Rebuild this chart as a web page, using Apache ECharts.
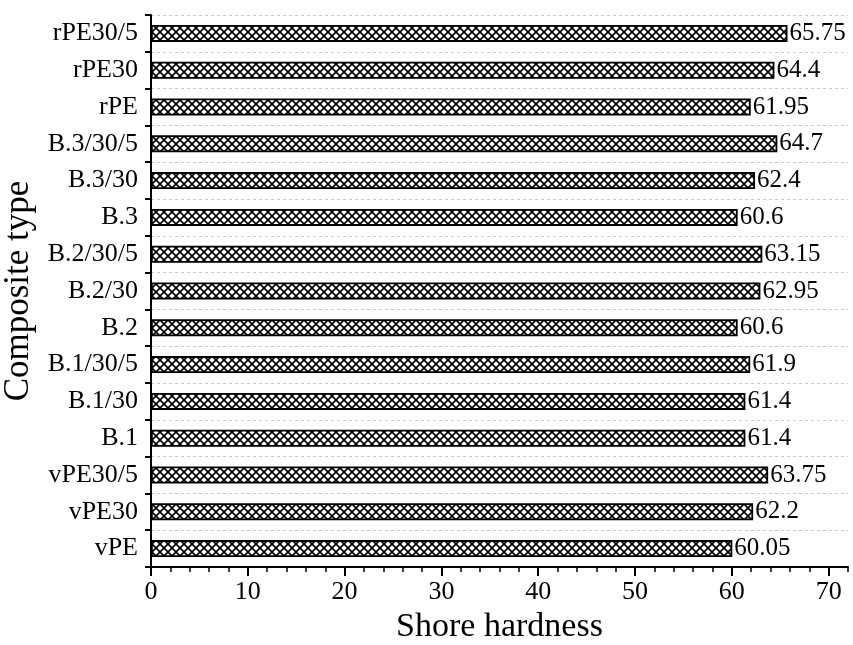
<!DOCTYPE html>
<html><head><meta charset="utf-8">
<script src="https://cdn.jsdelivr.net/npm/echarts@6/dist/echarts.min.js"></script>
<style>html,body{margin:0;padding:0;background:#fff}#c{width:853px;height:645px}</style>
</head><body><div id="c"></div>
<script>
const categories = ['vPE','vPE30','vPE30/5','B.1','B.1/30','B.1/30/5','B.2','B.2/30','B.2/30/5','B.3','B.3/30','B.3/30/5','rPE','rPE30','rPE30/5'];
const hardness = [60.05,62.2,63.75,61.4,61.4,61.9,60.6,62.95,63.15,60.6,62.4,64.7,61.95,64.4,65.75];
const majorTicks = [0,10,20,30,40,50,60,70];
const xTitle = 'Shore hardness';
const yTitle = 'Composite type';

const pc = document.createElement('canvas');
pc.width = 8; pc.height = 8;
const g = pc.getContext('2d');
g.fillStyle = '#fff'; g.fillRect(0,0,8,8);
g.strokeStyle = '#000'; g.lineWidth = 1.7;
g.beginPath(); g.moveTo(0,0); g.lineTo(8,8); g.moveTo(0,8); g.lineTo(8,0); g.stroke();

const FONT = 'Liberation Serif';
const chart = echarts.init(document.getElementById('c'));
chart.setOption({
  animation: false,
  backgroundColor: '#fff',
  grid: {left: 151, right: 5, top: 15, bottom: 78, containLabel: false, outerBoundsMode: 'none'},
  xAxis: [{
    type: 'value', min: 0, max: 72, interval: 2, position: 'bottom',
    name: xTitle, nameLocation: 'middle', nameGap: 43,
    nameTextStyle: {fontFamily: FONT, fontSize: 34, color: '#000'},
    axisLine: {show: true, lineStyle: {color: '#000', width: 2}},
    axisTick: {show: true, length: 5, lineStyle: {color: '#000', width: 1.5}},
    axisLabel: {show: false},
    splitLine: {show: false}
  },{
    type: 'value', min: 0, max: 72, interval: 10, position: 'bottom', gridIndex: 0,
    axisLine: {show: false},
    axisTick: {show: true, length: 9, customValues: majorTicks, lineStyle: {color: '#000', width: 2}},
    axisLabel: {show: true, customValues: majorTicks, margin: 12, fontFamily: FONT, fontSize: 26, color: '#000'},
    splitLine: {show: false}
  }],
  yAxis: {
    type: 'category', data: categories,
    name: yTitle, nameLocation: 'middle', nameGap: 10,
    nameTextStyle: {fontFamily: FONT, fontSize: 35, color: '#000'},
    axisLine: {show: true, lineStyle: {color: '#000', width: 2}},
    axisTick: {show: true, length: 6, lineStyle: {color: '#000', width: 2}},
    axisLabel: {margin: 13, fontFamily: FONT, fontSize: 26, color: '#000'},
    splitLine: {show: true, lineStyle: {color: '#c8c8c8', type: [3,3], width: 1}}
  },
  series: [{
    type: 'bar', xAxisIndex: 0, data: hardness, barWidth: 17,
    itemStyle: {color: {image: pc, repeat: 'repeat'}, borderColor: '#000', borderWidth: 1.8},
    label: {show: true, position: 'right', distance: 2, fontFamily: FONT, fontSize: 25, color: '#000',
      formatter: p => String(p.value)}
  }]
});
</script></body></html>
